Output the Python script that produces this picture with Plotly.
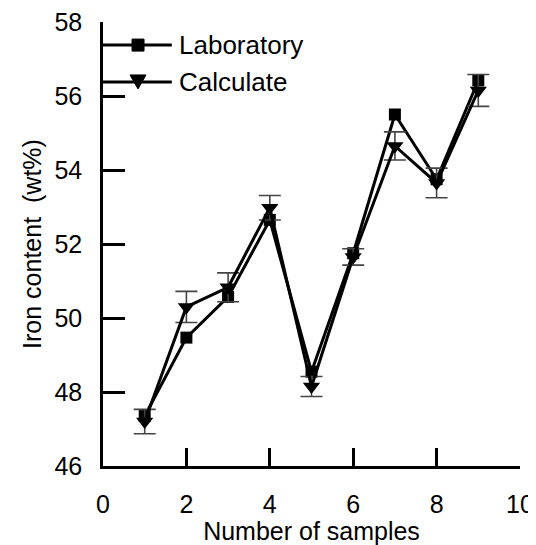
import plotly.graph_objects as go

samples = [1, 2, 3, 4, 5, 6, 7, 8, 9]
laboratory = [47.35, 49.47, 50.57, 52.65, 48.55, 51.75, 55.5, 53.75, 56.42]
calculate = [47.2, 50.3, 50.83, 52.98, 48.15, 51.65, 54.65, 53.65, 56.15]
calc_err = [0.33, 0.42, 0.39, 0.33, 0.27, 0.22, 0.38, 0.4, 0.43]
legend_names = ["Laboratory", "Calculate"]

FONT = "Liberation Sans, Arial, sans-serif"
FS = 25

fig = go.Figure()
fig.add_trace(go.Scatter(
    x=samples, y=laboratory, mode="lines+markers", name=legend_names[0],
    line=dict(color="black", width=3),
    marker=dict(symbol="square", size=12, color="black"),
    showlegend=False,
))
fig.add_trace(go.Scatter(
    x=samples, y=calculate, mode="lines+markers", name=legend_names[1],
    line=dict(color="black", width=3),
    marker=dict(symbol="triangle-down", size=15, color="black"),
    error_y=dict(type="data", array=calc_err, visible=True,
                 color="#444444", thickness=1.6, width=11),
    showlegend=False,
))

# custom legend (lines from the y axis, markers, text)
leg_y = [0.948, 0.865]
symbols_path = [
    "M-6,-6 L6,-6 L6,6 L-6,6 Z",
    "M-8,7 L8,7 L0,-7 Z",
]
shapes = []
annotations = []
for i, name in enumerate(legend_names):
    yy = leg_y[i]
    shapes.append(dict(type="line", xref="paper", yref="paper",
                       x0=0, x1=0.165, y0=yy, y1=yy,
                       line=dict(color="black", width=3)))
    shapes.append(dict(type="path", xref="paper", yref="paper",
                       xsizemode="pixel", ysizemode="pixel",
                       xanchor=0.084, yanchor=yy,
                       path=symbols_path[i],
                       fillcolor="black", line=dict(color="black", width=1)))
    annotations.append(dict(text=name, xref="paper", yref="paper",
                            x=0.178, y=yy, xanchor="left", yanchor="middle",
                            showarrow=False,
                            font=dict(family=FONT, size=FS + 1, color="black")))

# page body has an 8px margin, so the figure is sized/offset to compensate
fig.update_layout(
    width=528, height=537,
    margin=dict(l=95, r=16, t=14, b=79, autoexpand=False),
    paper_bgcolor="white", plot_bgcolor="white",
    font=dict(family=FONT, size=FS, color="black"),
    shapes=shapes, annotations=annotations,
)
fig.update_xaxes(
    range=[0, 10], tickvals=[0, 2, 4, 6, 8, 10],
    ticks="inside", ticklen=18, tickwidth=2.5, tickcolor="black",
    showline=True, linecolor="black", linewidth=2.5,
    showgrid=False, zeroline=False, automargin=False,
    title=dict(text="Number of samples", standoff=3,
               font=dict(family=FONT, size=FS)),
    tickfont=dict(family=FONT, size=FS),
    ticklabelstandoff=14, ticklabeloverflow="allow",
)
fig.update_yaxes(
    range=[46, 58], tickvals=[46, 48, 50, 52, 54, 56, 58],
    ticks="inside", ticklen=22, tickwidth=2.5, tickcolor="black",
    showline=True, linecolor="black", linewidth=2.5,
    showgrid=False, zeroline=False, automargin=False,
    title=dict(text="Iron content  (wt%)", standoff=6,
               font=dict(family=FONT, size=FS)),
    tickfont=dict(family=FONT, size=FS),
    ticklabelstandoff=13, ticklabeloverflow="allow",
)

fig.write_html("out.html")
